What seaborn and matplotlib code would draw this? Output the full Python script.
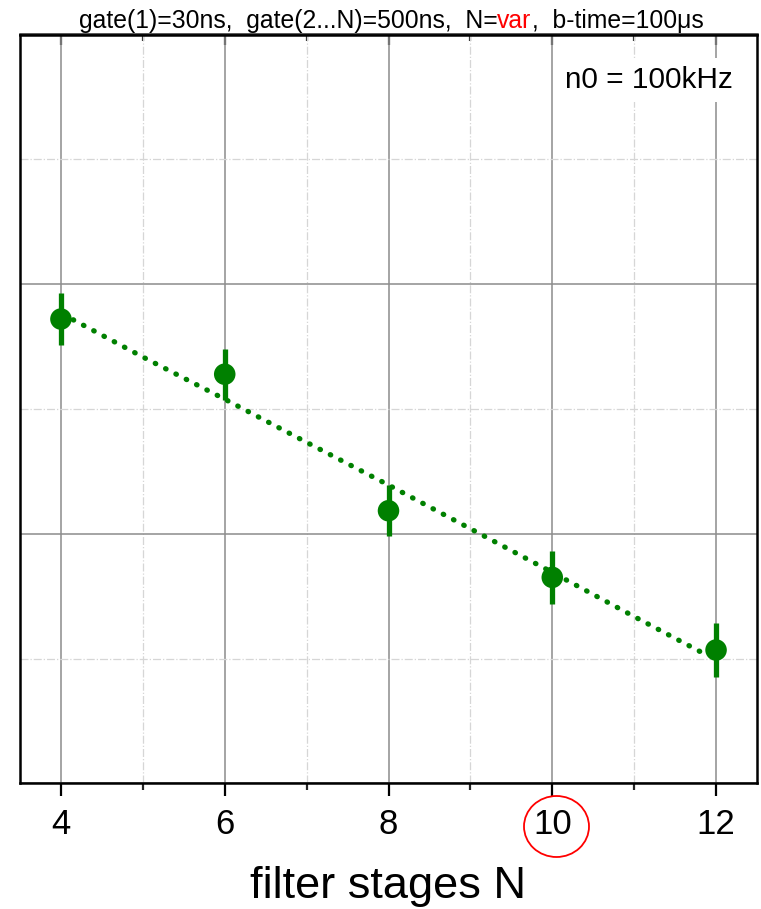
import matplotlib
matplotlib.use("Agg")
import matplotlib.pyplot as plt
import seaborn as sns
import numpy as np
import pandas as pd
from matplotlib.patches import Ellipse
from matplotlib.ticker import MultipleLocator, NullFormatter

# ---- data ----
stages = [4, 6, 8, 10, 12]
values = [1.860, 1.639, 1.092, 0.825, 0.534]
errors = [0.103, 0.102, 0.103, 0.105, 0.108]

fit_x = [4.15, 5, 6, 7, 8, 9, 10, 11, 11.85]
fit_y = [1.857, 1.708, 1.539, 1.366, 1.195, 1.020, 0.845, 0.668, 0.520]

xticks = [4, 6, 8, 10, 12]
xticklabels = ["4", "6", "8", "10", "12"]
title_parts = ["gate(1)=30ns,  gate(2...N)=500ns,  N=", "var", ",  b-time=100μs"]
title_colors = ["black", "red", "black"]
xlabel = "filter stages N"
note = "n0 = 100kHz"

sns.set_theme(style="white")
plt.rcParams['font.family'] = ['Liberation Sans', 'DejaVu Sans']

W, H = 761, 909
fig = plt.figure(figsize=(W / 100, H / 100), dpi=100)
ax = fig.add_axes([20 / W, 1 - 783.3 / H, (757 - 20) / W, (783.3 - 34.5) / H])

GREEN = "#008000"
fit_df = pd.DataFrame({"N": fit_x, "v": fit_y})
pts_df = pd.DataFrame({"N": stages, "v": values, "e": errors})

sns.lineplot(data=fit_df, x="N", y="v", ax=ax, color=GREEN, lw=3.8,
             linestyle=(0, (0.1, 2.1)), dash_capstyle="round", zorder=3)
ax.errorbar(pts_df["N"], pts_df["v"], yerr=pts_df["e"], fmt="none",
            ecolor=GREEN, elinewidth=3.8, capsize=0, zorder=4)
sns.scatterplot(data=pts_df, x="N", y="v", ax=ax, color=GREEN, s=15.5 ** 2,
                edgecolor="none", zorder=5)

ax.set_xlim(3.5, 12.5)
ax.set_ylim(0, 3)
ax.xaxis.set_major_locator(MultipleLocator(2))
ax.xaxis.set_minor_locator(MultipleLocator(1))
ax.yaxis.set_major_locator(MultipleLocator(1))
ax.yaxis.set_minor_locator(MultipleLocator(0.5))
ax.set_xticks(xticks)
ax.set_xticklabels(xticklabels)
ax.yaxis.set_major_formatter(NullFormatter())

ax.grid(which="major", color="#8c8c8c", lw=1.1, ls="-", zorder=0)
ax.grid(which="minor", color="#d6d6d6", lw=0.9, ls="-.", zorder=0)
ax.set_axisbelow(True)

for s in ax.spines.values():
    s.set_visible(True)
    s.set_color("black")
    s.set_linewidth(1.8)

ax.tick_params(axis="x", which="major", direction="out", length=9, width=1.6,
               labelsize=25, pad=9, colors="black", bottom=True, top=False)
ax.tick_params(axis="x", which="minor", direction="out", length=5, width=1.6,
               bottom=True, top=False)
ax.tick_params(axis="y", which="both", left=False, right=False, length=0)

# top inward ticks via secondary axis
sec = ax.secondary_xaxis("top")
sec.xaxis.set_major_locator(MultipleLocator(2))
sec.xaxis.set_minor_locator(MultipleLocator(1))
sec.tick_params(which="major", direction="in", length=8, width=1.6, labeltop=False)
sec.tick_params(which="minor", direction="in", length=5, width=1.6)
sec.spines["top"].set_linewidth(1.8)
sec.set_xticks([4, 6, 8, 10, 12])
sec.set_xticklabels([])

ax.set_xlabel(xlabel, fontsize=32.5, labelpad=18, color="black")
ax.set_ylabel("")

ax.text(0.8535, 0.939, note, transform=ax.transAxes, fontsize=21.4, ha="center",
        va="center", color="black",
        bbox=dict(facecolor="white", edgecolor="none", pad=6))

# multi-colour title
fig.canvas.draw()
renderer = fig.canvas.get_renderer()
fs = 17.8
texts = []
for p, c in zip(title_parts, title_colors):
    t = fig.text(0, 1 - 28 / H, p, fontsize=fs, color=c, ha="left", va="baseline")
    texts.append(t)
widths = [t.get_window_extent(renderer).width for t in texts]
total = sum(widths)
x0 = 391 - total / 2
for t, w in zip(texts, widths):
    t.set_x(x0 / W)
    x0 += w

# red circle around "10"
e = Ellipse((556.5 / W, 1 - 826.5 / H), 65 / W, 61 / H, transform=fig.transFigure,
            fill=False, edgecolor="red", lw=1.3)
fig.patches.append(e)

fig.savefig("out.png", dpi=100)
